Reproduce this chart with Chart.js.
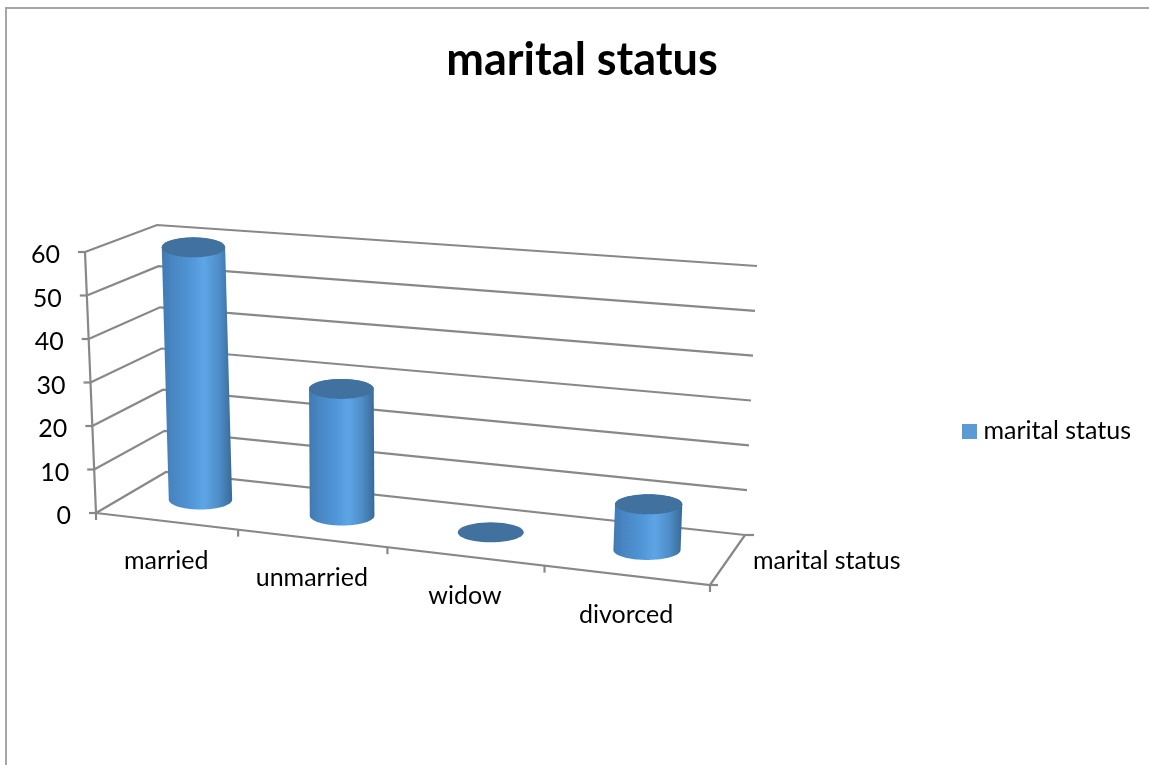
<!DOCTYPE html>
<html><head><meta charset="utf-8">
<style>html,body{margin:0;padding:0;background:#fff}canvas{display:block}</style>
<script src="https://cdn.jsdelivr.net/npm/chart.js@4"></script>
</head><body>
<canvas id="c" width="1149" height="765"></canvas>
<script>
const categories = ['married', 'unmarried', 'widow', 'divorced'];
const seriesName = 'marital status';
const values = [59, 29, 0, 10];
const yMin = 0, yMax = 60, yStep = 10;

const FONT = 'Lato, Carlito, sans-serif';
const GRID = '#888888';

// frame of the 3D box (front/back, floor/top corners)
const floorQuad = [[96,513],[710,585],[745,535],[166,472]];
const topQuad   = [[85,252],[724,299],[757,266],[157,225]];
function homography(q){
  const [[x0,y0],[x1,y1],[x2,y2],[x3,y3]] = q;
  const dx1=x1-x2,dx2=x3-x2,sx=x0-x1+x2-x3,dy1=y1-y2,dy2=y3-y2,sy=y0-y1+y2-y3;
  const den=dx1*dy2-dx2*dy1;
  const g=(sx*dy2-dx2*sy)/den,h=(dx1*sy-sx*dy1)/den;
  const a=x1-x0+g*x1,b=x3-x0+h*x3,d=y1-y0+g*y1,e=y3-y0+h*y3;
  return (u,v)=>{const w=g*u+h*v+1;return [(a*u+b*v+x0)/w,(d*u+e*v+y0)/w];};
}
const Hf=homography(floorQuad),Ht=homography(topQuad);
function P(u,v,w){const a=Hf(u,v),b=Ht(u,v);return [a[0]+(b[0]-a[0])*w,a[1]+(b[1]-a[1])*w];}

const DEPTH_C=0.5, ELLIPSE_RY=10;

function line(ctx,a,b){ctx.beginPath();ctx.moveTo(a[0],a[1]);ctx.lineTo(b[0],b[1]);ctx.stroke();}

function cylinder(ctx,u,du,w){
  const rx=du*(612+50*u);
  const pt=(t,wv)=>{
    const c=P(u,DEPTH_C,wv);
    return [c[0]+rx*Math.cos(t),c[1]+ELLIPSE_RY*Math.sin(t)];
  };
  const N=48;
  const bl=pt(Math.PI,0), br=pt(0,0), tl=pt(Math.PI,w), tr=pt(0,w);
  if(w>0.001){
    const g=ctx.createLinearGradient(Math.min(bl[0],tl[0]),0,Math.max(br[0],tr[0]),0);
    g.addColorStop(0,'#3f7ab3');g.addColorStop(0.15,'#4886c2');g.addColorStop(0.42,'#5096d8');
    g.addColorStop(0.6,'#5ea5e6');g.addColorStop(0.8,'#4f8fca');g.addColorStop(0.95,'#3f74a5');g.addColorStop(1,'#386894');
    ctx.fillStyle=g;ctx.beginPath();
    for(let i=0;i<=N;i++){const p=pt(Math.PI+Math.PI*i/N,w);i?ctx.lineTo(p[0],p[1]):ctx.moveTo(p[0],p[1]);}
    for(let i=0;i<=N;i++){const p=pt(Math.PI*i/N,0);ctx.lineTo(p[0],p[1]);}
    ctx.closePath();ctx.fill();
  }
  ctx.fillStyle='#41719f';ctx.beginPath();
  for(let i=0;i<N;i++){const p=pt(2*Math.PI*i/N,w);i?ctx.lineTo(p[0],p[1]):ctx.moveTo(p[0],p[1]);}
  ctx.closePath();ctx.fill();
}

const box3d={
  id:'box3d',
  beforeDatasetsDraw(chart){
    const ctx=chart.ctx,ya=chart.scales.y;
    ctx.save();
    // outer frame
    ctx.strokeStyle='#a6a6a6';ctx.lineWidth=2;
    ctx.beginPath();ctx.moveTo(6,765);ctx.lineTo(6,8);ctx.lineTo(1149,8);ctx.stroke();
    ctx.strokeStyle=GRID;ctx.lineWidth=2.2;
    const hgt=ya.bottom-ya.top;
    ya.ticks.forEach(t=>{
      const w=(ya.bottom-ya.getPixelForValue(t.value))/hgt;
      ctx.beginPath();
      const a=P(0,0,w),b=P(0,1,w),c=P(1,1,w);
      ctx.moveTo(a[0],a[1]);ctx.lineTo(b[0],b[1]);ctx.lineTo(c[0],c[1]);ctx.stroke();
      line(ctx,[a[0]-7,a[1]],a);
    });
    line(ctx,P(0,0,0),P(0,0,1));
    ctx.beginPath();
    [P(0,0,0),P(1,0,0),P(1,1,0)].forEach((p,i)=>i?ctx.lineTo(p[0],p[1]):ctx.moveTo(p[0],p[1]));
    ctx.stroke();
    for(let i=0;i<=categories.length;i++){
      const p=P(i/categories.length,0,0);line(ctx,p,[p[0],p[1]+7]);
    }
    const fr=P(1,0,0),br=P(1,1,0);
    line(ctx,fr,[fr[0]+8,fr[1]]);line(ctx,br,[br[0]+9,br[1]]);
    // text
    ctx.fillStyle='#000';ctx.font='25px '+FONT;ctx.textBaseline='middle';ctx.textAlign='right';
    ya.ticks.forEach(t=>{
      const w=(ya.bottom-ya.getPixelForValue(t.value))/hgt,p=P(0,0,w);
      ctx.fillText(t.label,p[0]-25,p[1]+3);
    });
    ctx.textAlign='center';
    const xa=chart.scales.x;
    categories.forEach((c,i)=>{
      const u=(xa.getPixelForValue(i)-xa.left)/(xa.right-xa.left),p=P(u,0,0);
      ctx.fillText(c,p[0],p[1]+39.5);
    });
    ctx.textAlign='left';
    ctx.fillText(seriesName,br[0]+8,br[1]+26);
    ctx.restore();
  },
  beforeDatasetDraw(chart,args){
    const ctx=chart.ctx,a=chart.chartArea;
    ctx.save();
    args.meta.data.forEach(el=>{
      const u=(el.x-a.left)/(a.right-a.left);
      const du=el.width/2/(a.right-a.left);
      const w=(el.base-el.y)/(a.bottom-a.top);
      cylinder(ctx,u,du,w);
    });
    ctx.restore();
    return false;
  }
};

const sw=document.createElement('canvas');sw.width=15;sw.height=15;
{const s=sw.getContext('2d');s.fillStyle='#5b9bd5';s.fillRect(0,0,15,15);}

new Chart(document.getElementById('c'),{
  type:'bar',
  data:{labels:categories,datasets:[{label:seriesName,data:values,backgroundColor:'#5b9bd5',barPercentage:0.41,categoryPercentage:1}]},
  options:{
    responsive:false,animation:false,
    layout:{padding:{left:23,right:8,top:0,bottom:15}},
    scales:{
      x:{display:false},
      y:{display:false,min:yMin,max:yMax,ticks:{stepSize:yStep}}
    },
    plugins:{
      tooltip:{enabled:false},
      title:{display:true,text:seriesName,color:'#000',font:{family:FONT,size:45,weight:'bold'},padding:{top:33,bottom:25}},
      legend:{position:'right',fullSize:false,labels:{usePointStyle:true,pointStyle:sw,pointStyleWidth:3,color:'#000',font:{family:FONT,size:25},padding:10}}
    }
  },
  plugins:[box3d]
});
</script>
</body></html>
